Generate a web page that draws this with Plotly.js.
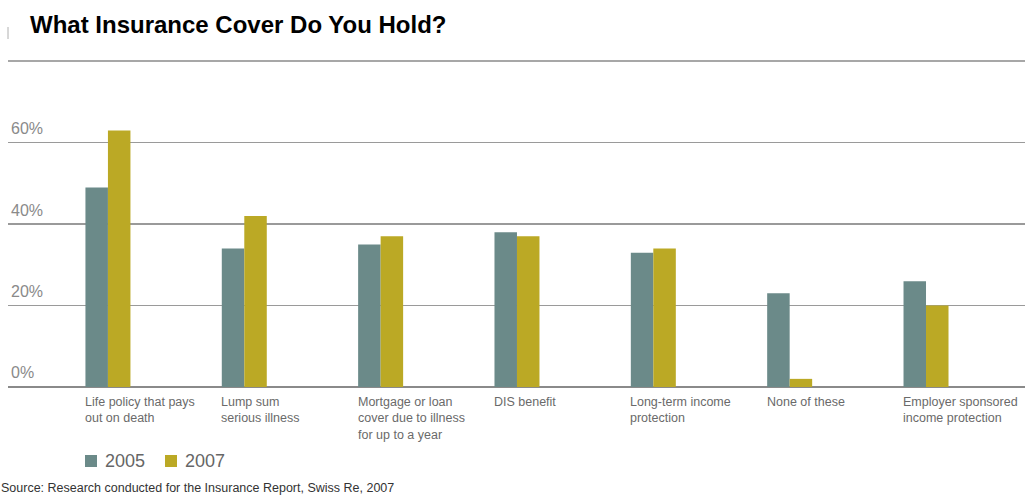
<!DOCTYPE html>
<html>
<head>
<meta charset="utf-8">
<script src="https://cdn.plot.ly/plotly-3.0.1.min.js"></script>
<style>
html,body{margin:0;padding:0;background:#fff;}
#chart{width:1025px;height:497px;}
</style>
</head>
<body>
<div id="chart"></div>
<script>
const categories = [
  "Life policy that pays<br>out on death",
  "Lump sum<br>serious illness",
  "Mortgage or loan<br>cover due to illness<br>for up to a year",
  "DIS benefit",
  "Long-term income<br>protection",
  "None of these",
  "Employer sponsored<br>income protection"
];
const values2005 = [49, 34, 35, 38, 33, 23, 26];
const values2007 = [63, 42, 37, 37, 34, 2, 20];
const seriesNames = ["2005", "2007"];
const seriesColors = ["#6b8a89", "#bba925"];
const yTickVals = [0, 20, 40, 60];
const yTickText = ["0%", "20%", "40%", "60%"];
const titleText = "What Insurance Cover Do You Hold?";
const sourceText = "Source: Research conducted for the Insurance Report, Swiss Re, 2007";

const FONT = "Liberation Sans, Arial, sans-serif";
const keys = categories.map((c, i) => "c" + i);

const traces = [
  {type: "bar", name: seriesNames[0], x: keys, y: values2005,
   marker: {color: seriesColors[0]}, hoverinfo: "skip"},
  {type: "bar", name: seriesNames[1], x: keys, y: values2007,
   marker: {color: seriesColors[1]}, hoverinfo: "skip"}
];

const catAnnotations = categories.map((c, i) => ({
  x: keys[i], y: 0, xref: "x", yref: "y",
  text: c, showarrow: false, xanchor: "left", yanchor: "top",
  align: "left", xshift: -25, yshift: -6,
  font: {family: FONT, size: 12.5, color: "#6a6a6a"}
}));

// custom legend (square + label), placed in paper coordinates
const legendX = [0.0757, 0.1544];
const legendY = -0.2596;
const legendShapes = seriesNames.map((n, i) => ({
  type: "rect", xref: "paper", yref: "paper",
  xsizemode: "pixel", ysizemode: "pixel",
  xanchor: legendX[i], yanchor: legendY,
  x0: 0, x1: 12, y0: -6, y1: 6,
  fillcolor: seriesColors[i], line: {width: 0}
}));
const legendAnn = seriesNames.map((n, i) => ({
  xref: "paper", yref: "paper", x: legendX[i], y: legendY,
  xanchor: "left", yanchor: "middle", xshift: 18,
  text: n, showarrow: false,
  font: {family: FONT, size: 18, color: "#666"}
}));

const layout = {
  width: 1025, height: 497,
  margin: {l: 8, r: 0, t: 102, b: 110, pad: 0},
  paper_bgcolor: "#fff", plot_bgcolor: "#fff",
  barmode: "group", bargap: 0.67, bargroupgap: 0,
  showlegend: false,
  xaxis: {type: "category", range: [-0.733, 6.726], showticklabels: false,
    showgrid: false, zeroline: false, showline: false, fixedrange: true},
  yaxis: {range: [0, 70], tickvals: yTickVals, ticktext: yTickText,
    ticklabelposition: "inside top", ticks: "", ticklabelshift: -3,
    tickfont: {family: FONT, size: 16, color: "#8a8a8a"},
    showgrid: true, gridcolor: "#9a9a9a", gridwidth: 1.5,
    zeroline: true, zerolinecolor: "#8a8a8a", zerolinewidth: 2,
    showline: false, fixedrange: true},
  annotations: [
    {xref: "paper", yref: "paper", x: 0.0, y: 1, xanchor: "left", yanchor: "middle",
     text: "<b>" + titleText + "</b>", showarrow: false,
     xshift: 20, yshift: 78,
     font: {family: FONT, size: 24, color: "#000"}},
    {xref: "paper", yref: "paper", x: 0.0, y: 0, xanchor: "left", yanchor: "middle",
     text: sourceText, showarrow: false, xshift: -9, yshift: -101,
     font: {family: FONT, size: 12.5, color: "#333"}}
  ].concat(catAnnotations, legendAnn),
  shapes: [
    {type: "line", xref: "paper", yref: "paper", ysizemode: "pixel", yanchor: 1,
     x0: 0, x1: 1, y0: 41, y1: 41, line: {color: "#8a8a8a", width: 1.5}},
    {type: "line", xref: "paper", yref: "paper", ysizemode: "pixel", yanchor: 1,
     x0: 0, x1: 0, y0: 63, y1: 75, line: {color: "#b0b0b0", width: 1}}
  ].concat(legendShapes)
};

Plotly.newPlot("chart", traces, layout, {displayModeBar: false, staticPlot: true});
</script>
</body>
</html>
